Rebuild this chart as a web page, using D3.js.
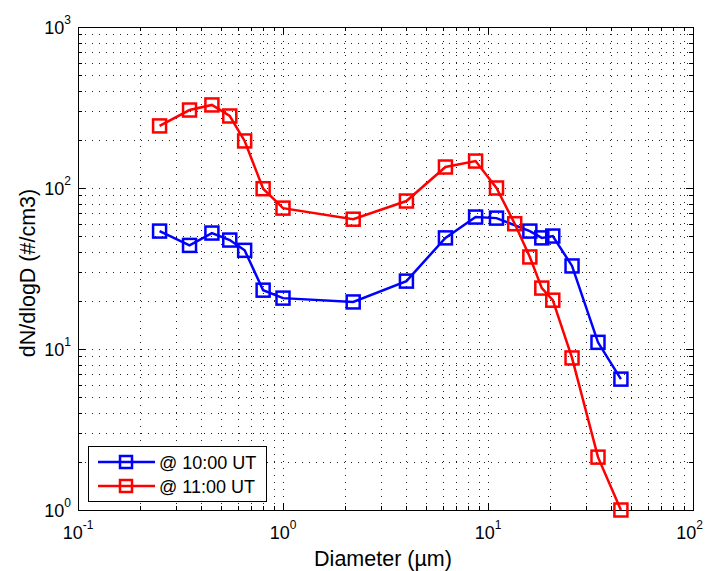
<!DOCTYPE html>
<html><head><meta charset="utf-8">
<script src="https://cdn.jsdelivr.net/npm/d3@7"></script>
<style>body{margin:0;background:#fff}svg{display:block}text{font-family:"Liberation Sans",Arial,sans-serif}</style>
</head><body><svg id="c" width="705" height="571"></svg>
<script>
const diameters10 = [0.25,0.35,0.45,0.55,0.65,0.8,1.0,2.2,4.0,6.2,8.7,11,16,18.3,20.7,25.7,34.4,44.5];
const values10 = [54,44,52.5,47.5,41,23.2,20.7,19.6,26.4,49,66,65,54,49,50.3,32.8,11.0,6.5];
const diameters11 = [0.25,0.35,0.45,0.55,0.65,0.8,1.0,2.2,4.0,6.2,8.7,11,13.5,16,18.3,20.7,25.7,34.4,44.5];
const values11 = [243,305,328,280,196,99,75,64,83,135,147,100,60,37.3,23.9,20.1,8.8,2.13,1.0];
const seriesNames = ["@ 10:00 UT","@ 11:00 UT"];
const seriesColors = ["#0000ff","#ff0000"];
const xDecades = [-1,0,1,2];
const yDecades = [0,1,2,3];

const svg = d3.select("#c");
const L=78,R=693,T=27,B=510;
const x = d3.scaleLog().domain([0.1,100]).range([L,R]);
const y = d3.scaleLog().domain([1,1000]).range([B,T]);

const xGrid=[], yGrid=[];
for (let e=-1;e<2;e++) for (let k=1;k<10;k++) xGrid.push(k*Math.pow(10,e));
xGrid.push(100);
for (let e=0;e<3;e++) for (let k=1;k<10;k++) yGrid.push(k*Math.pow(10,e));
yGrid.push(1000);

const g = svg.append("g");
g.selectAll(".gx").data(xGrid.filter(v=>v>0.1&&v<100)).enter().append("line")
 .attr("x1",d=>Math.round(x(d))+0.5).attr("x2",d=>Math.round(x(d))+0.5).attr("y1",T).attr("y2",B)
 .attr("stroke","#222").attr("stroke-width",1).attr("stroke-dasharray","1,6");
g.selectAll(".gy").data(yGrid.filter(v=>v>1&&v<1000)).enter().append("line")
 .attr("y1",d=>Math.round(y(d))+0.5).attr("y2",d=>Math.round(y(d))+0.5).attr("x1",L).attr("x2",R)
 .attr("stroke","#222").attr("stroke-width",1).attr("stroke-dasharray","1,6");

svg.append("rect").attr("x",L+0.5).attr("y",T+0.5).attr("width",R-L).attr("height",B-T)
 .attr("fill","none").attr("stroke","#000").attr("stroke-width",1);

const tk = svg.append("g").attr("stroke","#000").attr("stroke-width",1);
xGrid.forEach(v=>{
  const len = xDecades.includes(Math.round(Math.log10(v)*1000)/1000)?7:4;
  const px=Math.round(x(v))+0.5;
  tk.append("line").attr("x1",px).attr("x2",px).attr("y1",B).attr("y2",B-len);
  tk.append("line").attr("x1",px).attr("x2",px).attr("y1",T).attr("y2",T+len);
});
yGrid.forEach(v=>{
  const len = yDecades.includes(Math.round(Math.log10(v)*1000)/1000)?7:4;
  const py=Math.round(y(v))+0.5;
  tk.append("line").attr("y1",py).attr("y2",py).attr("x1",L).attr("x2",L+len);
  tk.append("line").attr("y1",py).attr("y2",py).attr("x1",R).attr("x2",R-len);
});

xDecades.forEach((e,i)=>{
  const last = i===xDecades.length-1;
  const t = svg.append("text").attr("x",last?703:x(Math.pow(10,e))).attr("y",539)
   .attr("text-anchor",last?"end":"middle").attr("font-size",18).attr("fill","#000");
  t.append("tspan").text("10");
  t.append("tspan").attr("dy",-10).attr("font-size",12).text(e);
});
yDecades.forEach(e=>{
  const t = svg.append("text").attr("x",L-7).attr("y",y(Math.pow(10,e))+7).attr("text-anchor","end").attr("font-size",18).attr("fill","#000");
  t.append("tspan").text("10");
  t.append("tspan").attr("dy",-10).attr("font-size",12).text(e);
});

svg.append("text").attr("x",383).attr("y",566).attr("text-anchor","middle").attr("font-size",21.5).text("Diameter (µm)");
svg.append("text").attr("transform",`translate(35,273) rotate(-90)`).attr("text-anchor","middle").attr("font-size",21.5).text("dN/dlogD (#/cm3)");

const series = [
  {d:diameters10, v:values10, c:seriesColors[0]},
  {d:diameters11, v:values11, c:seriesColors[1]}
];
const line = d3.line().x(p=>x(p[0])).y(p=>y(p[1]));
series.forEach(s=>{
  const pts = s.d.map((d,i)=>[d,s.v[i]]);
  svg.append("path").datum(pts).attr("d",line).attr("fill","none").attr("stroke",s.c).attr("stroke-width",2.5);
  svg.append("g").selectAll("rect").data(pts).enter().append("rect")
   .attr("x",p=>x(p[0])-6.5).attr("y",p=>y(p[1])-6.5).attr("width",13).attr("height",13)
   .attr("fill","none").attr("stroke",s.c).attr("stroke-width",2.5);
});

const lg = svg.append("g");
lg.append("rect").attr("x",88.5).attr("y",446.5).attr("width",178).attr("height",55).attr("fill","#fff").attr("stroke","#000").attr("stroke-width",1);
seriesNames.forEach((n,i)=>{
  const ly = 462+i*24;
  lg.append("line").attr("x1",98).attr("x2",155).attr("y1",ly).attr("y2",ly).attr("stroke",seriesColors[i]).attr("stroke-width",2.5);
  lg.append("rect").attr("x",120).attr("y",ly-6).attr("width",12).attr("height",12).attr("fill","none").attr("stroke",seriesColors[i]).attr("stroke-width",2.5);
  lg.append("text").attr("x",159).attr("y",ly+6.5).attr("font-size",18).text(n);
});
</script></body></html>
